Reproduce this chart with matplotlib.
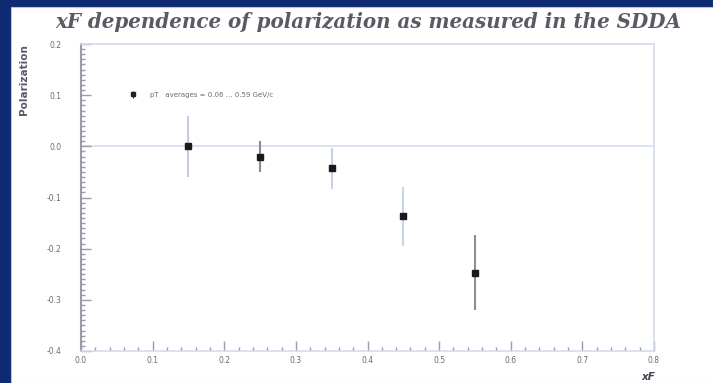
import numpy as np
import matplotlib.pyplot as plt
from matplotlib.ticker import MultipleLocator, FormatStrFormatter
from matplotlib.patches import Rectangle

# data
xf = [0.15, 0.25, 0.35, 0.45, 0.55]
pol = [0.0, -0.02, -0.043, -0.137, -0.247]
pol_err = [0.06, 0.03, 0.04, 0.057, 0.073]
err_colors = ['#c4cde0', '#8a8a98', '#c8d2e6', '#c6d6ee', '#8c8c9a']

legend_text = 'pT   averages = 0.06 ... 0.59 GeV/c'
title = 'xF dependence of polarization as measured in the SDDA'

fig = plt.figure(figsize=(7.13, 3.83), dpi=100, facecolor='#0d2a72')
# white slide area, blue strip left and top
fig.patches.append(Rectangle((11 / 713, 0), 1, (383 - 7) / 383,
                             transform=fig.transFigure, facecolor='white',
                             edgecolor='#b8c0d8', linewidth=0.8, zorder=-5))

ax = fig.add_axes([81 / 713, 32 / 383, (654 - 81) / 713, (351 - 44) / 383])
ax.set_zorder(2)
ax.set_facecolor('none')
ax.set_xlim(0, 0.8)
ax.set_ylim(-0.4, 0.2)

ax.axhline(0, color='#d6ddee', lw=1.2, zorder=1)

for x, y, e, c in zip(xf, pol, pol_err, err_colors):
    ax.errorbar(x, y, yerr=e, fmt='none', ecolor=c, elinewidth=1.5, capsize=0, zorder=2)
ax.plot(xf, pol, 's', color='#1a1a1a', ms=3.8, zorder=3)

# legend entry
h = ax.errorbar([], [], yerr=[], fmt='s', color='#222222', ms=3, elinewidth=0.8)
leg = ax.legend([h], [legend_text], loc='upper left', bbox_to_anchor=(0.07, 0.865),
                frameon=False, fontsize=5, handlelength=1.5, handletextpad=1.8)
for t in leg.get_texts():
    t.set_color('#6a6a7a')

ax.xaxis.set_major_locator(MultipleLocator(0.1))
ax.xaxis.set_minor_locator(MultipleLocator(0.02))
ax.yaxis.set_major_locator(MultipleLocator(0.1))
ax.yaxis.set_minor_locator(MultipleLocator(0.01))
ax.xaxis.set_major_formatter(FormatStrFormatter('%.1f'))
ax.yaxis.set_major_formatter(FormatStrFormatter('%.1f'))
ax.tick_params(which='both', direction='in', colors='#9a9aa8', labelcolor='#6a6a78',
               labelsize=5.5, width=1)
ax.tick_params(which='major', length=7)
ax.tick_params(which='minor', length=3)
ax.tick_params(axis='y', pad=14)

for side in ['top', 'right', 'bottom']:
    ax.spines[side].set_color('#d4dbea')
    ax.spines[side].set_linewidth(1.2)
ax.spines['left'].set_color('#9a9aa8')
ax.spines['left'].set_linewidth(1.5)

ax.set_ylabel('Polarization', fontsize=7.5, color='#5a5a6a', rotation=90, ha='right',
              weight='bold')
ax.yaxis.set_label_coords(-0.09, 1.0)
ax.set_xlabel('xF', fontsize=7.5, color='#444455', style='italic', weight='bold')
ax.xaxis.set_label_coords(0.99, -0.07)

fig.text(0.517, 0.942, title, ha='center', va='center', fontsize=14.3,
         family='DejaVu Serif', style='italic', weight='semibold', color='#5a5a64')

plt.savefig('out.png', dpi=100, facecolor=fig.get_facecolor())
